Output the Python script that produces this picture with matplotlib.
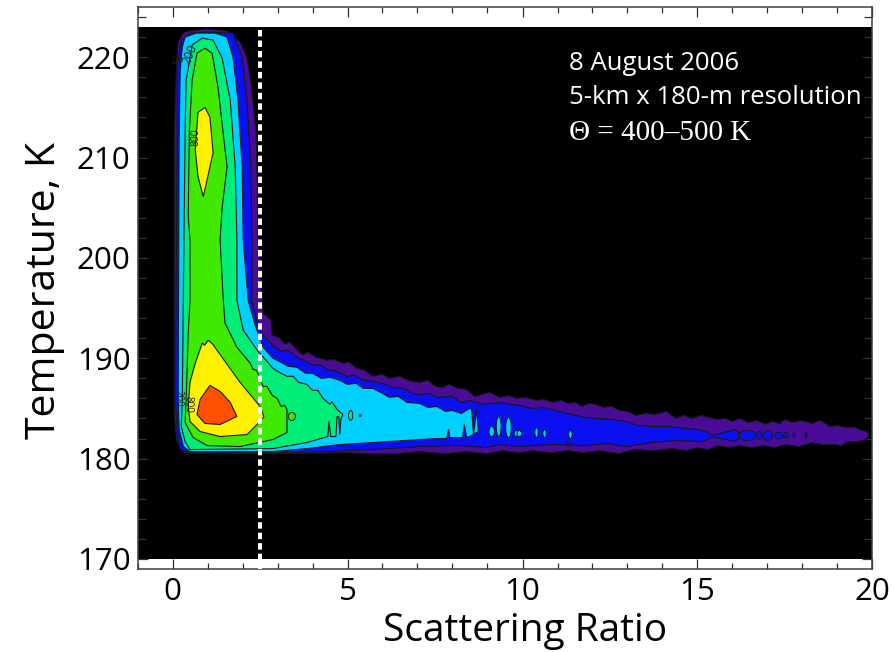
import matplotlib
matplotlib.use("Agg")
import matplotlib.pyplot as plt
from matplotlib.patches import Ellipse, Rectangle
from matplotlib.ticker import MultipleLocator

plt.rcParams['font.family'] = ['Open Sans', 'DejaVu Sans']

# contour outlines, (scattering ratio, temperature)
purple_x = [0.45, 0.99, 1.56, 1.93, 2.13, 2.24, 2.33, 2.39, 2.42, 2.44, 2.56, 2.59, 2.81, 2.84, 3.07, 3.2, 3.35, 3.56, 3.73, 3.85, 4.1, 4.41, 4.6, 4.87, 5.05, 5.27, 5.5, 5.72, 6.0, 6.2, 6.5, 6.8, 7.06, 7.3, 7.5, 7.72, 7.9, 8.15, 8.40, 8.63, 8.85, 9.06, 9.35, 9.6, 9.83, 10.1, 10.4, 10.6, 10.86, 11.1, 11.3, 11.5, 11.71, 11.9, 12.1, 12.3, 12.55, 12.77, 13.0, 13.25, 13.5, 13.8, 14.11, 14.39, 14.6, 14.85, 15.1, 15.33, 15.55, 15.8, 16.0, 16.19, 16.45, 16.7, 16.95, 17.13, 17.35, 17.5, 17.7, 17.95, 18.27, 18.5, 18.8, 19.0, 19.24, 19.5, 19.7, 19.84, 19.89,
            19.81, 19.6, 19.3, 19.1, 18.95, 18.6, 18.27, 17.9, 17.53, 17.2, 16.9, 16.56, 16.2, 15.9, 15.62, 15.3, 15.0, 14.68, 14.3, 13.71, 13.2, 12.77, 12.2, 11.7, 11.34, 10.8, 10.3, 9.91, 9.4, 8.97, 8.4, 7.8, 7.06, 6.4, 5.72, 4.8, 3.84, 0.50, 0.28, 0.11, 0.05, 0.05, 0.05, 0.11, 0.16, 0.31]
purple_t = [222.6, 222.8, 222.6, 221.5, 219.9, 217.4, 214.4, 212.5, 207.5, 202.5, 195.8, 194.5, 193.8, 192.3, 192.0, 191.4, 191.6, 190.8, 190.3, 190.6, 190.1, 189.8, 189.9, 189.5, 189.6, 189.0, 188.8, 188.2, 188.4, 188.0, 188.2, 187.7, 187.6, 187.8, 187.2, 187.1, 187.4, 187.0, 186.9, 186.2, 186.4, 186.6, 186.1, 186.3, 186.0, 186.1, 185.8, 185.9, 185.6, 185.8, 185.5, 185.6, 185.2, 185.5, 185.4, 185.1, 185.2, 184.8, 184.7, 184.3, 184.5, 184.4, 184.7, 184.0, 184.3, 184.0, 184.3, 184.1, 183.9, 184.0, 183.7, 184.0, 183.6, 183.8, 183.4, 183.7, 183.5, 183.9, 183.6, 183.8, 183.5, 183.8, 183.2, 183.3, 183.1, 183.1, 182.8, 182.7, 182.3,
            181.9, 181.7, 181.7, 181.3, 181.4, 181.4, 181.6, 181.2, 181.4, 181.1, 181.3, 181.1, 181.3, 181.1, 181.3, 180.9, 181.1, 180.8, 181.0, 180.8, 180.9, 180.5, 180.8, 180.6, 180.8, 180.6, 180.8, 180.6, 180.8, 180.5, 180.7, 180.5, 180.7, 180.5, 180.5, 180.6, 180.5, 180.5, 180.7, 181.9, 184.6, 202.5, 212.5, 218.7, 221.5, 222.4]

blue_x = [0.50, 0.99, 1.73, 1.99, 2.13, 2.24, 2.27, 2.27, 2.42, 2.59, 2.87, 3.1, 3.3, 3.56, 3.8, 4.01, 4.2, 4.41, 4.7, 4.98, 5.2, 5.45, 5.72, 6.0, 6.3, 6.6, 6.85, 7.06, 7.3, 7.6, 8.0, 8.25, 8.49, 8.9, 9.3, 9.91, 10.3, 10.6, 11.05, 11.4, 11.82, 12.2, 12.6, 12.96, 13.3, 13.71, 14.2, 14.68, 15.0, 15.25, 15.42, 15.62, 16.10, 16.24, 16.10, 15.67, 15.42, 15.13, 14.4, 13.71, 12.96, 12.4, 11.82, 10.86, 9.91, 9.4, 8.97, 8.2, 7.06, 5.72, 3.84, 0.50, 0.22, 0.13, 0.08, 0.13, 0.13, 0.25]
blue_t = [222.4, 222.5, 222.4, 220.0, 215.7, 209.1, 201.8, 195.8, 193.6, 192.3, 191.3, 190.7, 190.8, 190.1, 189.7, 189.3, 189.4, 188.9, 188.7, 188.2, 188.3, 187.8, 187.7, 187.5, 187.1, 187.0, 186.5, 186.4, 186.5, 186.1, 186.2, 185.6, 185.8, 185.4, 185.6, 185.3, 185.0, 185.1, 184.7, 184.4, 184.1, 184.0, 183.9, 183.7, 183.3, 183.2, 183.2, 183.0, 182.9, 182.7, 182.3, 182.5, 182.9, 182.3, 181.7, 182.0, 182.1, 181.7, 181.8, 181.6, 181.2, 181.5, 181.3, 181.4, 181.2, 181.4, 181.1, 181.3, 181.2, 180.9, 180.6, 180.6, 180.9, 182.6, 185.9, 210.8, 219.0, 221.7]

cyan_x = [0.36, 0.68, 1.22, 1.56, 1.73, 1.87, 1.99, 2.02, 2.16, 2.36, 2.59, 2.87, 3.1, 3.3, 3.56, 3.8, 4.01, 4.25, 4.5, 4.78, 5.0, 5.25, 5.45, 5.72, 6.0, 6.2, 6.45, 6.7, 7.06, 7.3, 7.55, 7.8, 8.0, 8.25, 8.49, 8.55, 8.60, 8.69, 8.74, 8.49, 8.40, 8.34, 8.29, 7.92, 7.89, 7.83, 7.55, 7.06, 5.72, 4.78, 3.84, 2.87, 0.50, 0.31, 0.19, 0.16, 0.19, 0.22, 0.28]
cyan_t = [222.0, 222.4, 222.4, 222.0, 220.0, 215.7, 209.1, 201.8, 195.8, 193.3, 191.1, 190.0, 189.6, 189.2, 189.1, 188.5, 188.5, 188.0, 188.1, 187.8, 187.4, 187.5, 187.0, 187.0, 186.5, 186.1, 186.2, 185.6, 185.5, 185.1, 185.2, 184.7, 184.8, 184.5, 185.0, 184.9, 182.4, 184.9, 182.7, 182.2, 182.1, 183.4, 182.1, 182.1, 182.9, 182.0, 182.0, 181.9, 181.6, 181.4, 181.0, 180.7, 180.7, 181.2, 182.9, 185.9, 212.5, 218.7, 221.0]

seagreen_x = [0.56, 0.85, 1.16, 1.42, 1.65, 1.79, 1.84, 1.84, 2.02, 2.42, 2.87, 3.05, 3.27, 3.45, 3.6, 3.84, 4.0, 4.15, 4.30, 4.5, 4.55, 4.70, 4.87, 4.81, 4.78, 4.75, 4.70, 4.67, 4.52, 4.47, 4.44, 3.84, 2.87, 0.50, 0.36, 0.25, 0.28, 0.31, 0.36, 0.39]
seagreen_t = [221.2, 221.9, 221.7, 219.9, 215.7, 209.1, 201.8, 195.8, 192.8, 190.8, 189.0, 188.6, 188.2, 188.2, 187.6, 187.4, 186.8, 186.8, 186.0, 185.4, 185.7, 184.9, 184.4, 183.9, 182.4, 184.2, 184.2, 182.2, 182.2, 183.7, 182.2, 181.6, 181.0, 180.9, 181.7, 183.2, 185.9, 195.8, 212.5, 217.7]

lime_x = [0.93, 1.13, 1.30, 1.50, 1.56, 1.42, 1.36, 1.45, 1.50, 1.84, 2.22, 2.3, 2.4, 2.59, 2.7, 2.85, 2.99, 3.1, 3.2, 3.27, 3.27, 2.87, 1.93, 0.99, 0.59, 0.36, 0.39, 0.45, 0.50, 0.50, 0.45, 0.48, 0.56, 0.70]
lime_t = [220.9, 220.4, 217.0, 210.8, 209.1, 205.1, 201.8, 195.8, 193.5, 191.1, 189.5, 188.9, 188.8, 187.2, 187.2, 186.3, 186.0, 185.2, 185.3, 184.9, 182.6, 181.9, 181.2, 181.3, 182.1, 183.6, 185.9, 192.5, 195.8, 201.8, 204.1, 212.5, 217.7, 220.4]

yellow_low_x = [1.02, 0.92, 0.85, 0.65, 0.50, 0.45, 0.50, 0.79, 1.36, 2.13, 2.50, 2.61, 2.50, 1.93, 1.27, 1.15]
yellow_low_t = [191.8, 191.3, 191.5, 189.5, 187.6, 185.2, 183.7, 182.7, 182.2, 182.4, 183.7, 184.2, 185.2, 187.6, 190.8, 191.4]
yellow_up_x = [0.93, 0.73, 0.65, 0.73, 0.88, 0.99, 1.16, 1.07]
yellow_up_t = [215.0, 214.5, 210.8, 208.1, 206.1, 207.8, 210.5, 214.0]
orange_x = [1.07, 0.79, 0.70, 0.93, 1.36, 1.84, 1.65, 1.36]
orange_t = [187.3, 185.9, 184.4, 183.5, 183.4, 184.2, 185.6, 186.7]

# small closed contours along the tail: x, T, half width, half height
cyan_spots = [(9.12, 182.7, 0.08, 0.5), (9.32, 183.2, 0.07, 1.0), (9.60, 183.1, 0.08, 1.0), (9.83, 182.5, 0.07, 0.3),
              (9.91, 182.5, 0.07, 0.3), (10.4, 182.6, 0.05, 0.5), (10.63, 182.5, 0.05, 0.4), (11.37, 182.4, 0.05, 0.4)]
blue_spots = [(16.42, 182.3, 0.25, 0.5), (16.76, 182.3, 0.08, 0.4), (17.01, 182.3, 0.13, 0.5), (17.33, 182.3, 0.12, 0.35),
              (17.53, 182.3, 0.06, 0.3), (17.76, 182.3, 0.04, 0.2), (18.1, 182.3, 0.03, 0.3)]
lime_spots = [(3.41, 184.2, 0.1, 0.4)]
seagreen_spots = [(5.09, 184.3, 0.06, 0.5), (5.36, 184.3, 0.03, 0.1)]

x_ticks = [0, 5, 10, 15, 20]
y_ticks = [170, 180, 190, 200, 210, 220]

purple = '#4a0c96'
blue = '#0a10f0'
cyan = '#00d0ff'
seagreen = '#00ee78'
lime = '#40ea00'
yellow = '#fff000'
orange = '#ff5000'

fig = plt.figure(figsize=(8.95, 6.52), dpi=100)
ax = fig.add_axes([137.5 / 895, 1 - 569 / 652, 735 / 895, 562 / 652])
ax.set_xlim(-1, 20)
ax.set_ylim(169.0, 225.0)

ax.add_patch(Rectangle((-1, 170), 21, 53, color='black', lw=0, zorder=1))

layers = [(purple_x, purple_t, purple), (blue_x, blue_t, blue), (cyan_x, cyan_t, cyan), (seagreen_x, seagreen_t, seagreen),
          (lime_x, lime_t, lime), (yellow_low_x, yellow_low_t, yellow), (yellow_up_x, yellow_up_t, yellow), (orange_x, orange_t, orange)]
for i, (xs, ts, col) in enumerate(layers):
    ax.fill(xs, ts, facecolor=col, edgecolor='#181818', lw=0.8, zorder=2 + i)

for spots, col in [(cyan_spots, cyan), (blue_spots, blue), (lime_spots, lime), (seagreen_spots, seagreen)]:
    for x, t, hw, hh in spots:
        ax.add_patch(Ellipse((x, t), 2 * hw, 2 * hh, facecolor=col, edgecolor='#181818', lw=0.7, zorder=12))

# contour labels
ax.text(0.5, 220.3, '200', fontsize=8.5, rotation=68, ha='center', va='center', color='#202020', zorder=13)
ax.text(0.66, 212.0, '800', fontsize=7.5, rotation=90, ha='center', va='center', color='#202020', zorder=13)
ax.text(0.17, 219.8, '50', fontsize=7, rotation=80, ha='center', va='center', color='#202020', zorder=13)
ax.text(0.44, 185.4, '800', fontsize=7, rotation=-90, ha='center', va='center', color='#202020', zorder=13)
ax.text(0.17, 186.0, '200', fontsize=7, rotation=-90, ha='center', va='center', color='#202020', zorder=13)
ax.text(11.28, 181.3, '50', fontsize=6.5, rotation=-40, ha='center', va='center', color='#202020', zorder=13)

# dashed threshold line
ax.plot([2.5, 2.5], [222.7, 169.0], color='white', lw=2.9, linestyle=(0, (1.6, 1.0)), dash_capstyle='butt', zorder=14, clip_on=False)

ax.text(11.34, 219.4, '8 August 2006', fontsize=18.5, color='white', ha='left', va='center', zorder=15)
ax.text(11.34, 216.0, '5-km x 180-m resolution', fontsize=18.5, color='white', ha='left', va='center', zorder=15)
ax.text(11.34, 212.4, '\u0398 = 400\u2013500 K', fontsize=21, color='white', ha='left', va='center', zorder=15, family='Liberation Serif')

ax.set_xticks(x_ticks)
ax.set_yticks(y_ticks)
ax.xaxis.set_minor_locator(MultipleLocator(1))
ax.yaxis.set_minor_locator(MultipleLocator(2))
ax.tick_params(axis='both', which='major', direction='in', length=7.2, width=0.9, top=True, right=True, labelsize=22.5, color='#303030')
ax.tick_params(axis='both', which='minor', direction='in', length=4.3, width=0.9, top=True, right=True, color='#303030')
ax.tick_params(axis='y', which='minor', length=5.5)
ax.tick_params(axis='x', which='major', pad=6)
ax.tick_params(axis='y', which='major', pad=5)
for s in ax.spines.values():
    s.set_linewidth(1.1)
    s.set_color('#404040')

ax.set_xlabel('Scattering Ratio', fontsize=28)
ax.xaxis.set_label_coords(0.527, -0.077)
ax.set_ylabel('Temperature, K', fontsize=29.5)
ax.yaxis.set_label_coords(-0.098, 0.495)

fig.savefig('out.png', dpi=100)
